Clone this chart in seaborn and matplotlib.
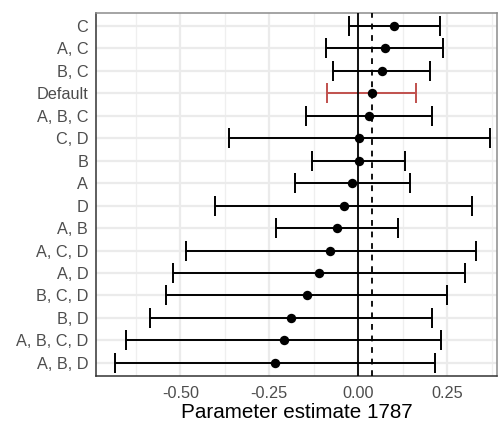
import numpy as np
import pandas as pd
import seaborn as sns
import matplotlib
matplotlib.use("Agg")
import matplotlib.pyplot as plt
from matplotlib.ticker import MultipleLocator

# Model variants, top to bottom
labels = ["C", "A, C", "B, C", "Default", "A, B, C", "C, D", "B", "A", "D",
          "A, B", "A, C, D", "A, D", "B, C, D", "B, D", "A, B, C, D", "A, B, D"]
estimate = [0.101, 0.074, 0.066, 0.038, 0.030, 0.002, 0.001, -0.017, -0.039,
            -0.060, -0.078, -0.110, -0.144, -0.189, -0.210, -0.234]
lower = [-0.027, -0.091, -0.071, -0.087, -0.146, -0.363, -0.129, -0.178, -0.403,
         -0.231, -0.485, -0.521, -0.540, -0.584, -0.654, -0.685]
upper = [0.231, 0.239, 0.201, 0.161, 0.207, 0.369, 0.132, 0.145, 0.321,
         0.111, 0.332, 0.300, 0.250, 0.207, 0.234, 0.216]
default_label = "Default"

df = pd.DataFrame({"model": labels, "est": estimate, "lo": lower, "hi": upper})
n = len(df)
df["ypos"] = np.arange(n)[::-1]
df["is_default"] = df["model"] == default_label
default_est = df.loc[df["is_default"], "est"].iloc[0]

sns.set_theme(style="white")
plt.rcParams["font.family"] = ["Liberation Sans", "DejaVu Sans"]

fig = plt.figure(figsize=(4.99, 4.21), dpi=100)
ax = fig.add_axes([0.1924, 0.1076, 0.8036, 0.8614])

# Grid (major + minor on x, major on y)
ax.xaxis.set_major_locator(MultipleLocator(0.25))
ax.xaxis.set_minor_locator(MultipleLocator(0.125))
ax.grid(True, which="major", axis="both", color="#EBEBEB", lw=1.6, zorder=0)
ax.grid(True, which="minor", axis="x", color="#EFEFEF", lw=0.9, zorder=0)
ax.set_axisbelow(True)

for _, r in df.iterrows():
    col = "#C0504D" if r["is_default"] else "black"
    ax.errorbar(r["est"], r["ypos"],
                xerr=[[r["est"] - r["lo"]], [r["hi"] - r["est"]]],
                fmt="none", ecolor=col, elinewidth=1.4, capsize=7.2,
                capthick=1.4, zorder=2)

ax.axvline(0, color="black", lw=1.3, zorder=3)

sns.scatterplot(data=df, x="est", y="ypos", color="black", s=46,
                edgecolor="black", linewidth=0, zorder=4, ax=ax, legend=False)

ax.axvline(default_est, color="black", lw=1.3, ls=(0, (3.2, 3.2)), zorder=5)

ax.set_xlim(-0.737, 0.390)
ax.set_ylim(-0.57, n - 1 + 0.57)
ax.set_yticks(df["ypos"])
ax.set_yticklabels(df["model"])
ax.set_xticks([-0.5, -0.25, 0.0, 0.25])
ax.set_xticklabels(["-0.50", "-0.25", "0.00", "0.25"])

ax.tick_params(axis="both", which="major", length=3.6, width=1.0,
               color="#333333", labelcolor="#4D4D4D", labelsize=11.7)
ax.tick_params(axis="y", which="major", pad=2)
ax.tick_params(axis="x", which="major", pad=3.5)
ax.tick_params(axis="x", which="minor", length=0)

for side in ["top", "right"]:
    ax.spines[side].set_color("#8C8C8C")
    ax.spines[side].set_linewidth(1.1)
for side in ["left", "bottom"]:
    ax.spines[side].set_color("#333333")
    ax.spines[side].set_linewidth(1.1)

ax.set_xlabel("Parameter estimate 1787", fontsize=14.9, color="black", labelpad=2)
ax.set_ylabel("")

fig.savefig("out.png", dpi=100)
